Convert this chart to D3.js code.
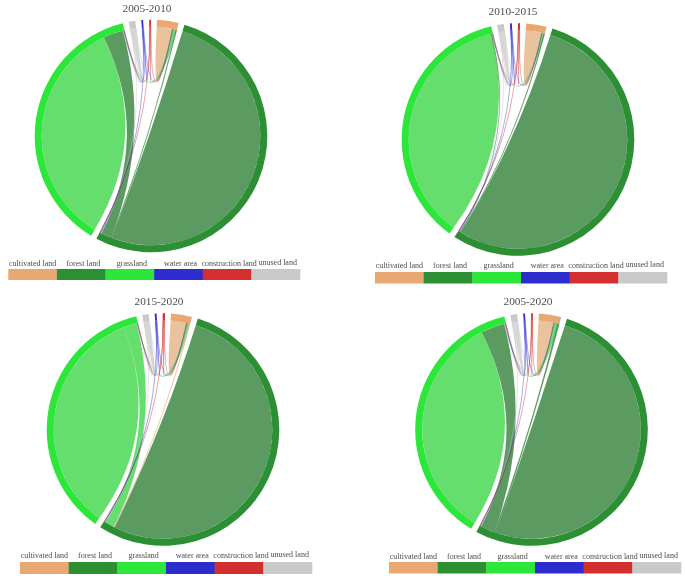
<!DOCTYPE html>
<html><head><meta charset="utf-8">
<script src="https://cdn.jsdelivr.net/npm/d3@7/dist/d3.min.js"></script>
<style>html,body{margin:0;padding:0;background:#fff}svg{display:block;filter:blur(.35px)}text{font-family:"Liberation Serif",serif;fill:#4d4d4d}</style>
</head><body><svg id="c" width="685" height="576"></svg>
<script>
// Legend order and labels
const legendKeys = ["cult","forest","grass","water","constr","unused"];
const legendLabels = ["cultivated land","forest land","grassland","water area","construction land","unused land"];
// Order of the sectors around the circle, clockwise
const ringOrder = ["cult","forest","grass","unused","water","constr"];
const periods = ["2005-2010","2010-2015","2015-2020","2005-2020"];

// Links: [from, to, width at "from" end, width at "to" end]; a self link has one width (values read as arc shares)
const flows2005to2010 = [
 ["forest","forest",183.4],["grass","grass",123],["cult","cult",8.0],["unused","unused",2.5],["water","water",.5],["constr","constr",.4],
 ["forest","grass",5.5,10.5],["forest","cult",.6,.6],["grass","cult",.3,1.6],
 ["unused","cult",.25,.2],["water","cult",.1,.15],["constr","cult",.15,.15],
 ["unused","forest",.2,.4],["water","forest",.1,.3],["constr","forest",.15,.3],
 ["unused","grass",.3,.2],["water","grass",.2,.2],["constr","grass",.2,.15]];
const flows2010to2015 = [
 ["forest","forest",193.3],["grass","grass",129],["cult","cult",8.3],["unused","unused",2.6],["water","water",.5],["constr","constr",.5],
 ["forest","grass",.35,.35],["forest","cult",.4,.6],["grass","cult",.2,.9],
 ["unused","cult",.2,.2],["water","cult",.1,.1],["constr","cult",.15,.1],
 ["unused","forest",.2,.4],["water","forest",.15,.3],["constr","forest",.2,.3],
 ["unused","grass",.3,.15],["water","grass",.2,.15],["constr","grass",.2,.15]];
const flows2015to2020 = [
 ["forest","forest",188],["grass","grass",122.5],["cult","cult",8.2],["unused","unused",2.5],["water","water",.5],["constr","constr",.6],
 ["grass","forest",7.2,5],["cult","forest",.5,.4],["grass","cult",.2,1.3],
 ["unused","cult",.15,.15],["water","cult",.1,.1],["constr","cult",.15,.15],
 ["unused","forest",.2,.3],["water","forest",.15,.25],["constr","forest",.2,.3],
 ["unused","grass",.3,.15],["water","grass",.2,.15],["constr","grass",.2,.15]];
const flows2005to2020 = [
 ["forest","forest",180.6],["grass","grass",121.2],["cult","cult",7.8],["unused","unused",2.6],["water","water",.5],["constr","constr",.45],
 ["forest","grass",7.5,12.5],["forest","cult",.9,1],["grass","cult",.3,1.8],
 ["unused","cult",.25,.2],["water","cult",.1,.15],["constr","cult",.15,.1],
 ["unused","forest",.2,.35],["water","forest",.1,.3],["constr","forest",.15,.2],
 ["unused","grass",.35,.25],["water","grass",.2,.25],["constr","grass",.15,.2]];
const allFlows = [flows2005to2010,flows2010to2015,flows2015to2020,flows2005to2020];

// Styles
const ringColor = {cult:"#e9a872",forest:"#2c8f33",grass:"#2ce63a",water:"#2c2ccf",constr:"#d32f2f",unused:"#c9c9c9"};
const ribbonColor = {cult:"#dfaa70",forest:"#16701f",grass:"#24d030",water:"#2c2ccf",constr:"#d32f2f",unused:"#c4c4c4"};
// Placement of each panel
const layout = [
 {cx:151,cy:136,rot:3,  tx:147,ty:12, lx:[8.3,300],  ly:269,lh:11,lb:265.5},
 {cx:518,cy:139.5,rot:4,tx:513,ty:15, lx:[375,667],  ly:272,lh:11.5,lb:268},
 {cx:163,cy:429.5,rot:4,tx:159,ty:305,lx:[20,312],   ly:562,lh:12,lb:558},
 {cx:531.5,cy:429.5,rot:3.7,tx:528,ty:305,lx:[389,681],ly:562,lh:11.5,lb:558.5}
];
const R = 116.3, ringW = 7, padDeg = 3;
// Clockwise band order inside each sector
const bandOrder = {
 cult:["cult","unused","water","constr","grass","forest"],
 forest:["forest","cult","grass","unused","water","constr"],
 grass:["grass","forest","cult","unused","water","constr"],
 unused:["grass","forest","unused","cult"],
 water:["grass","forest","water","cult"],
 constr:["grass","forest","constr","cult"]};

const svg = d3.select("#c");
const arc = d3.arc().innerRadius(R-ringW).outerRadius(R);
const ribbon = d3.ribbon().radius(R-ringW);

periods.forEach((period,p)=>{
  const flows = allFlows[p], L = layout[p];
  const g = svg.append("g").attr("transform",`translate(${L.cx},${L.cy})`);
  // bands of each sector
  const bands = {};
  ringOrder.forEach(k=>bands[k]={});
  flows.forEach((f,i)=>{
    if(f[0]===f[1]) bands[f[0]][f[0]]={i,v:f[2],end:"s"};
    else { bands[f[0]][f[1]]={i,v:f[2],end:"s"}; bands[f[1]][f[0]]={i,v:f[3],end:"t"}; }
  });
  const total = d3.sum(ringOrder,k=>d3.sum(Object.values(bands[k]),b=>b.v));
  const toAngle = d3.scaleLinear().domain([0,total]).range([0,(360-padDeg*ringOrder.length)*Math.PI/180]);
  const pad = padDeg*Math.PI/180, rot = L.rot*Math.PI/180;
  let pos = 0;
  const sectors = [], ends = flows.map(()=>({}));
  ringOrder.forEach((k,si)=>{
    const start = pos;
    bandOrder[k].forEach(o=>{
      const b = bands[k][o]; if(!b) return;
      const a0 = rot+toAngle(pos)+si*pad, a1 = rot+toAngle(pos+b.v)+si*pad;
      ends[b.i][b.end]={startAngle:a0,endAngle:a1};
      pos += b.v;
    });
    sectors.push({key:k,startAngle:rot+toAngle(start)+si*pad,endAngle:rot+toAngle(pos)+si*pad});
  });
  const links = flows.map((f,i)=>({from:f[0],self:f[0]===f[1],size:f[0]===f[1]?f[2]:f[2]+f[3],
      source:ends[i].s,target:f[0]===f[1]?ends[i].s:ends[i].t}))
      .sort((a,b)=>b.size-a.size);
  g.selectAll("path.link").data(links).join("path").attr("class","link")
    .attr("d",ribbon)
    .attr("fill",d=>ribbonColor[d.from]).attr("fill-opacity",.7)
    .attr("stroke",d=>d.size<3?ribbonColor[d.from]:"none").attr("stroke-width",.3).attr("stroke-opacity",.55);
  g.selectAll("path.sector").data(sectors).join("path").attr("class","sector")
    .attr("d",arc).attr("fill",d=>ringColor[d.key]);
  svg.append("text").attr("x",L.tx).attr("y",L.ty).attr("text-anchor","middle")
    .attr("font-size",11.3).text(period);
  // legend
  const band = d3.scaleBand().domain(legendKeys).range(L.lx);
  const lg = svg.append("g");
  lg.selectAll("rect").data(legendKeys).join("rect")
    .attr("x",d=>band(d)).attr("y",L.ly).attr("width",band.bandwidth()+.3).attr("height",L.lh)
    .attr("fill",d=>ringColor[d]);
  lg.selectAll("text").data(legendKeys).join("text")
    .attr("x",d=>band(d)+band.bandwidth()/2+(d==="cult"?0:2))
    .attr("y",d=>L.lb-(d==="unused"?1:0)).attr("text-anchor","middle")
    .attr("font-size",8).text((d,i)=>legendLabels[i]);
});
</script></body></html>
